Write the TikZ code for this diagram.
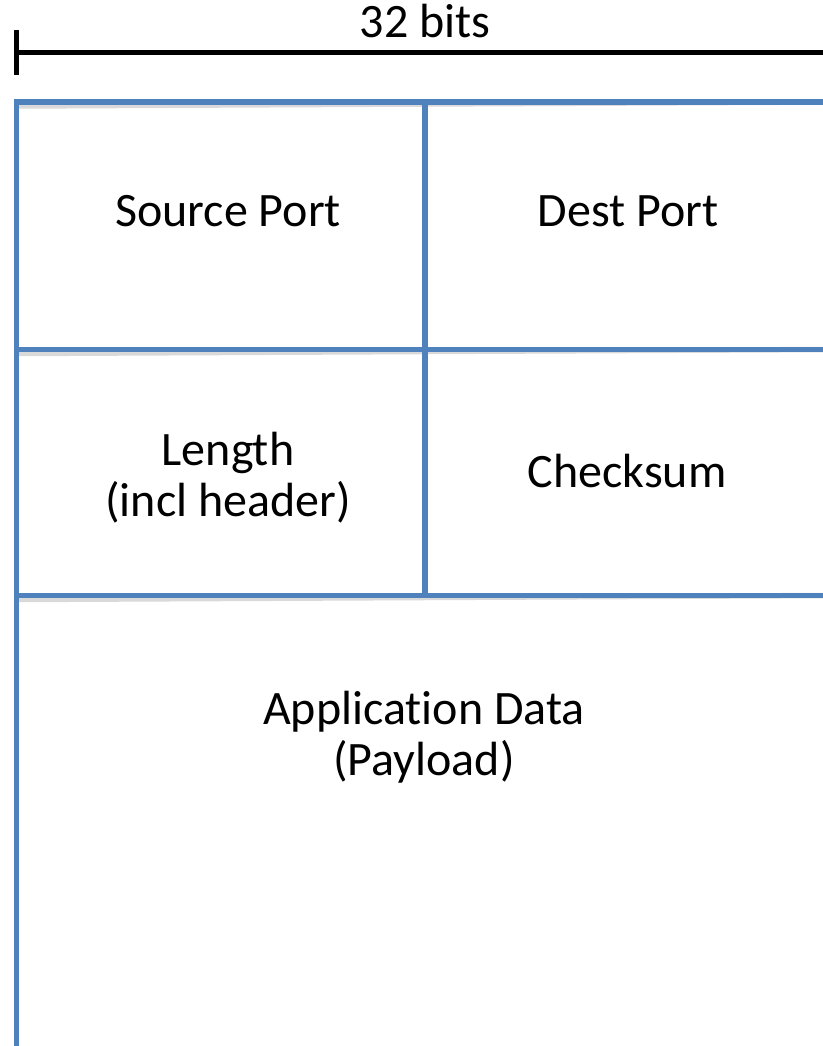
\documentclass[tikz,border=0pt]{standalone}
\usepackage{fontspec}
\setmainfont{Carlito}[Ligatures={NoCommon}]
\definecolor{fieldblue}{HTML}{4F81BD}
\newcommand\fieldfont{\fontsize{48}{51}\selectfont\setlength{\lineskiplimit}{-100pt}}
\tikzset{
  grid line/.style={draw=fieldblue, line width=5.5pt},
  shadow line/.style={draw=black!25, line width=5.5pt, opacity=0.6},
  ruler/.style={draw=black, line width=5pt},
  field/.style={font=\fieldfont, align=center, inner sep=0pt},
}
\begin{document}
\begin{tikzpicture}[x=1pt,y=-1pt]
\useasboundingbox (0,0) rectangle (822,1046);
% coordinates
\coordinate (tl) at (16.5,102);
\coordinate (tr) at (830,102);
\coordinate (bl) at (16.5,1060);
\coordinate (m1l) at (16.5,349.5);
\coordinate (m1r) at (830,349.5);
\coordinate (m2l) at (16.5,595.5);
\coordinate (m2r) at (830,595.5);
\coordinate (vt) at (425,102);
\coordinate (vb) at (425,595.5);
\coordinate (rt) at (16.5,30);
\coordinate (rb) at (16.5,75);
\coordinate (rl) at (16.5,52.5);
\coordinate (rr) at (830,52.5);
% shadows
\begin{scope}[shift={(1.5,4)}]
\draw[shadow line] (14,102) -- (tr);
\draw[shadow line] (14,349.5) -- (m1r);
\draw[shadow line] (14,595.5) -- (m2r);
\draw[shadow line] (vt) -- (vb);
\draw[shadow line] (tl) -- (bl);
\draw[shadow line] (rt) -- (rb);
\draw[shadow line] (rl) -- (rr);
\end{scope}
% ruler
\draw[ruler] (rt) -- (rb);
\draw[ruler] (rl) -- (rr);
% grid
\draw[grid line] (14,102) -- (tr);
\draw[grid line] (tl) -- (bl);
\draw[grid line] (m1l) -- (m1r);
\draw[grid line] (m2l) -- (m2r);
\draw[grid line] (vt) -- (vb);
% texts
\node[field, anchor=base] (bits) at (425,38) {32 bits};
\node[field, anchor=base] (src) at (228,226) {Source Port};
\node[field, anchor=base] (dst) at (628,226) {Dest Port};
\node[field, anchor=base] (len) at (228,516) {Length\\(incl header)};
\node[field, anchor=base] (chk) at (627,487) {Checksum};
\node[field, anchor=base] (app) at (424,775) {Application Data\\(Payload)};
\end{tikzpicture}
\end{document}
